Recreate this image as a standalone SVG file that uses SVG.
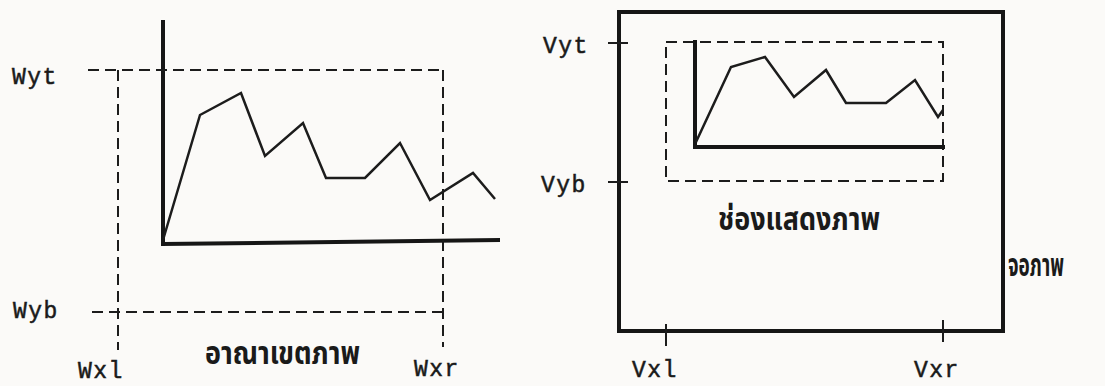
<svg xmlns="http://www.w3.org/2000/svg" width="1105" height="386" viewBox="0 0 1105 386">
<style>
.bg{fill:#fbfaf8}
.axis{stroke:#161616;stroke-width:4;fill:none;stroke-linecap:square}
.frame{stroke:#161616;stroke-width:4;fill:none;stroke-linejoin:miter}
.plot{stroke:#1c1c1c;stroke-width:2.5;fill:none;stroke-linejoin:miter}
.dash{stroke:#1c1c1c;stroke-width:2;fill:none;stroke-dasharray:11 6}
.tick{stroke:#1c1c1c;stroke-width:2;fill:none}
.lbl{font-family:"Liberation Mono","DejaVu Sans Mono",monospace;font-size:23px;fill:#1a1a1a;stroke:#1a1a1a;stroke-width:0.5;letter-spacing:1.5px}
.th{font-family:"Noto Sans Thai","Noto Sans","DejaVu Sans","Liberation Sans",sans-serif;font-size:32px;fill:#1a1a1a;font-weight:bold}
</style>
<rect class="bg" x="0" y="0" width="1105" height="386"/>
<g id="world">
  <g id="world-axes">
    <line class="axis" x1="163" y1="22" x2="163" y2="244"/>
    <line class="axis" x1="163" y1="244" x2="498" y2="240"/>
  </g>
  <polyline class="plot" points="163,240 200,115 241,93 265,156 303,123 326,178 365,178 400,143 430,200 473,173 495,199"/>
  <g id="window">
    <line class="dash" x1="88" y1="70" x2="443" y2="70"/>
    <line class="dash" x1="92" y1="312" x2="443" y2="312"/>
    <line class="dash" x1="118" y1="70" x2="118" y2="350"/>
    <line class="dash" x1="443" y1="70" x2="443" y2="347"/>
  </g>
  <text class="lbl" x="12" y="84">Wyt</text>
  <text class="lbl" x="13" y="318">Wyb</text>
  <text class="lbl" x="78" y="378">Wxl</text>
  <text class="lbl" x="414" y="376">Wxr</text>
  <text class="th" x="205" y="364" textLength="155" lengthAdjust="spacingAndGlyphs">อาณาเขตภาพ</text>
</g>
<g id="screen">
  <rect class="frame" x="619" y="12" width="384" height="319"/>
  <g id="ticks">
    <line class="tick" x1="608" y1="43" x2="628" y2="43"/>
    <line class="tick" x1="608" y1="182" x2="628" y2="182"/>
    <line class="tick" x1="666" y1="324" x2="666" y2="346"/>
    <line class="tick" x1="943" y1="320" x2="943" y2="342"/>
  </g>
  <g id="viewport">
    <rect class="dash" x="666" y="42" width="277" height="139"/>
    <line class="axis" x1="695" y1="42" x2="695" y2="147"/>
    <line class="axis" x1="695" y1="147" x2="943" y2="147"/>
    <polyline class="plot" points="696,142 731,67 765,57 794,97 826,70 846,103 886,103 915,80 938,117 943,110"/>
  </g>
  <text class="lbl" x="543" y="53">Vyt</text>
  <text class="lbl" x="541" y="192">Vyb</text>
  <text class="lbl" x="632" y="377">Vxl</text>
  <text class="lbl" x="914" y="377">Vxr</text>
  <text class="th" x="718" y="230" textLength="162" lengthAdjust="spacingAndGlyphs">ช่องแสดงภาพ</text>
  <text class="th" x="1008" y="276" textLength="56" lengthAdjust="spacingAndGlyphs">จอภาพ</text>
</g>
</svg>
